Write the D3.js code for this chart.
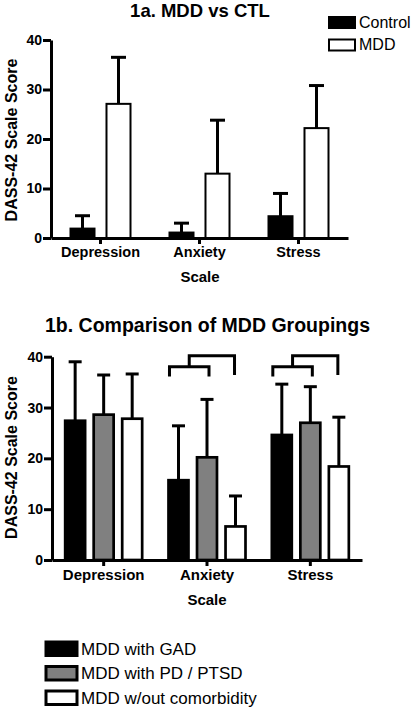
<!DOCTYPE html>
<html>
<head>
<meta charset="utf-8">
<script src="https://cdn.jsdelivr.net/npm/d3@7"></script>
<style>
  html, body { margin: 0; padding: 0; background: #fff; }
  svg { display: block; font-family: "Liberation Sans", Arial, Helvetica, sans-serif; }
</style>
</head>
<body>
<svg id="chart" width="415" height="710"></svg>
<script>
// ---------- data ----------
const categories = ["Depression", "Anxiety", "Stress"];
const yTicks = [0, 10, 20, 30, 40];

// Figure 1a
const groupsA = ["Control", "MDD"];
const controlMeans = [1.9, 1.1, 4.4];
const controlSD = [2.6, 1.9, 4.6];
const mddMeans = [27.1, 13.0, 22.2];
const mddSD = [9.4, 10.8, 8.6];
const fillsA = ["#000000", "#ffffff"];

// Figure 1b
const groupsB = ["MDD with GAD", "MDD with PD / PTSD", "MDD w/out comorbidity"];
const gadMeans = [27.4, 15.7, 24.6];
const gadSD = [11.6, 10.7, 10.0];
const pdMeans = [28.6, 20.2, 27.0];
const pdSD = [7.8, 11.4, 7.1];
const noneMeans = [27.8, 6.6, 18.4];
const noneSD = [8.8, 6.0, 9.7];
const fillsB = ["#000000", "#808080", "#ffffff"];

// significance brackets (in score units)
const bracketCategories = ["Anxiety", "Stress"];
const bracketLow = [38.0, 36.1];   // [bar level, leg end]
const bracketHigh = [40.2, 36.4];  // [bar level, leg end]

// ---------- drawing ----------
const svg = d3.select("#chart");
svg.append("rect").attr("width", 415).attr("height", 710).attr("fill", "#fff");

function drawPanel(cfg) {
  const g = svg.append("g");
  const y = d3.scaleLinear().domain([0, 40]).range([cfg.y0, cfg.y40]);
  const x = d3.scaleBand().domain(categories).range([cfg.xL, cfg.xR]);
  const inner = d3.scaleBand().domain(cfg.groups)
    .range([-cfg.half, cfg.half]).paddingInner(cfg.innerPad);

  const rows = [];
  cfg.groups.forEach((grp, gi) => {
    categories.forEach((c, ci) => {
      rows.push({ c, grp, gi, mean: cfg.means[gi][ci], sd: cfg.sds[gi][ci] });
    });
  });
  const cx = d => x(d.c) + x.bandwidth() / 2 + inner(d.grp);

  // bars
  g.selectAll("rect.bar").data(rows).join("rect")
    .attr("class", "bar")
    .attr("x", d => cx(d))
    .attr("width", inner.bandwidth())
    .attr("y", d => y(d.mean))
    .attr("height", d => y(0) - y(d.mean))
    .attr("fill", d => cfg.fills[d.gi])
    .attr("stroke", "#000")
    .attr("stroke-width", cfg.barStroke);

  // error bars
  const eb = g.selectAll("g.err").data(rows).join("g").attr("class", "err");
  eb.append("line")
    .attr("x1", d => cx(d) + inner.bandwidth() / 2)
    .attr("x2", d => cx(d) + inner.bandwidth() / 2)
    .attr("y1", d => y(d.mean))
    .attr("y2", d => y(d.mean + d.sd))
    .attr("stroke", "#000").attr("stroke-width", 3);
  eb.append("line")
    .attr("x1", d => cx(d) + inner.bandwidth() / 2 - cfg.cap / 2)
    .attr("x2", d => cx(d) + inner.bandwidth() / 2 + cfg.cap / 2)
    .attr("y1", d => y(d.mean + d.sd))
    .attr("y2", d => y(d.mean + d.sd))
    .attr("stroke", "#000").attr("stroke-width", 3);

  // axes
  const yAxis = g.append("g")
    .attr("transform", `translate(${cfg.xL},0)`)
    .call(d3.axisLeft(y).tickValues(yTicks).tickSize(8).tickSizeOuter(0).tickPadding(1));
  const xAxis = g.append("g")
    .attr("transform", `translate(0,${cfg.y0})`)
    .call(d3.axisBottom(x).tickSize(6).tickSizeOuter(0).tickPadding(3));
  [yAxis, xAxis].forEach(a => {
    a.select(".domain").attr("stroke", "#000").attr("stroke-width", 3);
    a.selectAll(".tick line").attr("stroke", "#000").attr("stroke-width", 3);
    a.selectAll("text").attr("fill", "#000").attr("font-weight", "bold")
      .attr("font-family", '"Liberation Sans", Arial, sans-serif');
  });
  yAxis.selectAll("text").attr("font-size", 14);
  xAxis.selectAll("text").attr("font-size", cfg.catFont);

  // titles
  g.append("text").attr("x", cfg.titleX).attr("y", cfg.titleY)
    .attr("text-anchor", "middle").attr("font-weight", "bold")
    .attr("font-size", cfg.titleFont).text(cfg.title);
  g.append("text").attr("x", cfg.scaleX).attr("y", cfg.scaleY)
    .attr("text-anchor", "middle").attr("font-weight", "bold")
    .attr("font-size", 15).text("Scale");
  g.append("text")
    .attr("transform", `translate(17,${cfg.ylabY}) rotate(-90)`)
    .attr("text-anchor", "middle").attr("font-weight", "bold")
    .attr("font-size", 16).text("DASS-42 Scale Score");

  return { g, x, y, inner };
}

// Panel 1a
drawPanel({
  y0: 238, y40: 40, xL: 51, xR: 348,
  groups: groupsA, means: [controlMeans, mddMeans], sds: [controlSD, mddSD],
  fills: fillsA, half: 30, innerPad: 0.333, cap: 15, barStroke: 2,
  catFont: 14.5,
  title: "1a. MDD vs CTL", titleX: 200, titleY: 17, titleFont: 18.5,
  scaleX: 200, scaleY: 281.5, ylabY: 140
});

// Panel 1b
const pB = drawPanel({
  y0: 560, y40: 356.7, xL: 52, xR: 362,
  groups: groupsB, means: [gadMeans, pdMeans, noneMeans], sds: [gadSD, pdSD, noneSD],
  fills: fillsB, half: 38.5, innerPad: 0.3, cap: 13, barStroke: 2.7,
  catFont: 15,
  title: "1b. Comparison of MDD Groupings", titleX: 207.5, titleY: 332, titleFont: 19.5,
  scaleX: 207, scaleY: 605, ylabY: 457.5
});

// significance brackets
bracketCategories.forEach(c => {
  const base = pB.x(c) + pB.x.bandwidth() / 2;
  const bw = pB.inner.bandwidth();
  const cGad = base + pB.inner(groupsB[0]) + bw / 2;
  const cPd = base + pB.inner(groupsB[1]) + bw / 2;
  const cNone = base + pB.inner(groupsB[2]) + bw / 2;
  const y = pB.y;
  const lx1 = cGad - 9, lx2 = cPd + 2, mid = (lx1 + lx2) / 2;
  const lowPath = d3.path();
  lowPath.moveTo(lx1, y(bracketLow[1]));
  lowPath.lineTo(lx1, y(bracketLow[0]));
  lowPath.lineTo(lx2, y(bracketLow[0]));
  lowPath.lineTo(lx2, y(bracketLow[1]));
  const highPath = d3.path();
  highPath.moveTo(mid, y(bracketLow[0]));
  highPath.lineTo(mid, y(bracketHigh[0]));
  highPath.lineTo(cNone - 1, y(bracketHigh[0]));
  highPath.lineTo(cNone - 1, y(bracketHigh[1]));
  [lowPath, highPath].forEach(p => {
    pB.g.append("path").attr("d", p.toString())
      .attr("fill", "none").attr("stroke", "#000").attr("stroke-width", 3)
      .attr("stroke-linejoin", "miter").attr("stroke-linecap", "butt");
  });
});

// legends
const legA = svg.append("g");
const legAY = [17, 39.5];
legA.selectAll("rect").data(groupsA).join("rect")
  .attr("x", 329).attr("y", (d, i) => legAY[i])
  .attr("width", 26).attr("height", 11)
  .attr("fill", (d, i) => fillsA[i]).attr("stroke", "#000").attr("stroke-width", 2);
legA.selectAll("text").data(groupsA).join("text")
  .attr("x", 359).attr("y", (d, i) => legAY[i] + 10.5)
  .attr("font-size", 16).text(d => d);

const legB = svg.append("g");
const legBY = [642, 666.5, 691];
legB.selectAll("rect").data(groupsB).join("rect")
  .attr("x", 46).attr("y", (d, i) => legBY[i])
  .attr("width", 31).attr("height", 13.5)
  .attr("fill", (d, i) => fillsB[i]).attr("stroke", "#000").attr("stroke-width", 3);
legB.selectAll("text").data(groupsB).join("text")
  .attr("x", 81).attr("y", (d, i) => legBY[i] + 12.5)
  .attr("font-size", 17).text(d => d);
</script>
</body>
</html>
